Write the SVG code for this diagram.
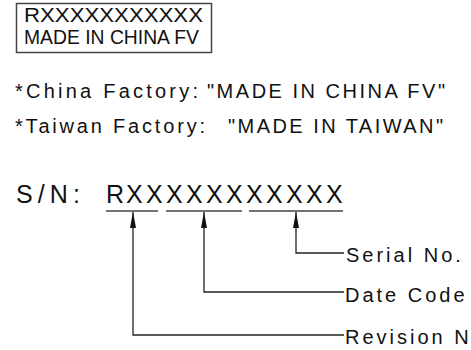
<svg xmlns="http://www.w3.org/2000/svg" width="471" height="350" viewBox="0 0 471 350">
<style>
text{font-family:"Liberation Sans",Arial,sans-serif;fill:#111}
.f{font-size:20px}
.lbl{font-size:20px;letter-spacing:3px}
.ln{fill:none;stroke:#222;stroke-width:1.3}
.ul{stroke:#444;stroke-width:1.3}
</style>
<defs>
<marker id="ah" viewBox="0 0 16 6" refX="16" refY="3" markerWidth="16" markerHeight="6" markerUnits="userSpaceOnUse" orient="auto-start-reverse">
<path d="M16,3 L0,0 L0,6 Z" fill="#111"/>
</marker>
</defs>
<g id="label-box">
<rect x="16.5" y="3.5" width="195" height="49" fill="none" stroke="#444" stroke-width="1.5"/>
<text x="24" y="22" font-size="20" textLength="179" lengthAdjust="spacingAndGlyphs">RXXXXXXXXXXX</text>
<text x="24" y="44" font-size="20" textLength="175" lengthAdjust="spacingAndGlyphs">MADE IN CHINA FV</text>
</g>
<g id="notes">
<text class="f" x="15" y="98" textLength="183" lengthAdjust="spacing">*China Factory:</text>
<text class="f" x="207" y="98" textLength="238" lengthAdjust="spacing">"MADE IN CHINA FV"</text>
<text class="f" x="15" y="133" textLength="190" lengthAdjust="spacing">*Taiwan Factory:</text>
<text class="f" x="228" y="133" textLength="215" lengthAdjust="spacing">"MADE IN TAIWAN"</text>
</g>
<g id="serial-number">
<text x="16" y="203" font-size="25" textLength="64" lengthAdjust="spacing">S/N:</text>
<text y="203" font-size="25" x="106 126 146 166 186 206 226 246 266 286 306 326">RXXXXXXXXXXX</text>
<line class="ul" x1="106" y1="211" x2="158" y2="211"/>
<line class="ul" x1="166" y1="211" x2="242" y2="211"/>
<line class="ul" x1="249" y1="211" x2="343" y2="211"/>
</g>
<g id="connectors">
<path class="ln" d="M296,212 V253 H344" marker-start="url(#ah)"/>
<path class="ln" d="M204,212 V292 H344" marker-start="url(#ah)"/>
<path class="ln" d="M133,212 V335 H344" marker-start="url(#ah)"/>
</g>
<g id="serial-label"><text class="lbl" x="346" y="262">Serial No.</text></g>
<g id="date-label"><text class="lbl" x="345" y="302">Date Code</text></g>
<g id="revision-label"><text class="lbl" x="345" y="344">Revision N</text></g>
</svg>
